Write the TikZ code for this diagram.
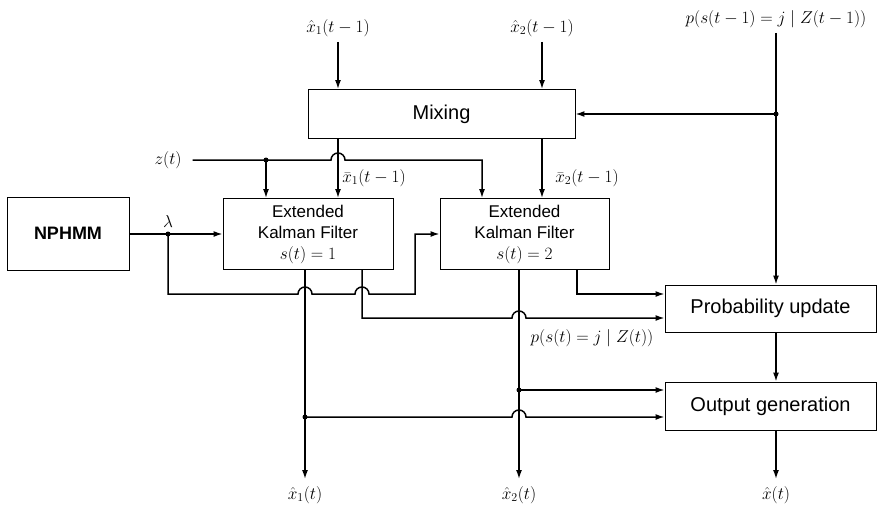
\documentclass[tikz,border=0pt]{standalone}
\usepackage{fontspec}
\setmainfont{Liberation Sans}
\usetikzlibrary{arrows.meta,calc}
\begin{document}
\begin{tikzpicture}[x=1pt,y=1pt]
\tikzset{
  box/.style={draw, line width=0.9pt, inner sep=0pt, align=center},
  bigtxt/.style={font=\fontsize{20}{24}\selectfont},
  ekftxt/.style={font=\fontsize{17}{21}\selectfont},
  conn/.style={line width=1.5pt},
  arr/.style={conn, -{Latex[length=9pt,width=6pt]}},
  jdot/.style={circle, fill, inner sep=0pt, minimum size=5pt},
  lab/.style={inner sep=1pt, font=\fontsize{16.5}{19}\selectfont},
}
\useasboundingbox (0,0) rectangle (879,-504);
% boxes
\node[box, bigtxt, minimum width=267pt, minimum height=49pt] (mix) at (441.5,-114) {Mixing};
\node[box, font=\bfseries\fontsize{18}{22}\selectfont, minimum width=122pt, minimum height=73pt] (nph) at (68,-233.5) {NPHMM};
\node[box, ekftxt, minimum width=170pt, minimum height=71pt] (ekf1) at (308,-234) {Extended\\Kalman Filter\\$s(t)=1$};
\node[box, ekftxt, minimum width=169pt, minimum height=71pt] (ekf2) at (524.5,-234) {Extended\\Kalman Filter\\$s(t)=2$};
\node[box, bigtxt, minimum width=211pt, minimum height=47pt] (pu) at (770.5,-308.5) {Probability update};
\node[box, bigtxt, minimum width=211pt, minimum height=48pt] (og) at (770.5,-406) {Output generation};
% labels
\node[lab] (lx1) at (338,-28) {$\hat{x}_1(t-1)$};
\node[lab] (lx2) at (542,-28) {$\hat{x}_2(t-1)$};
\node[lab] (lp) at (776,-19) {$p(s(t-1)=j\mid Z(t-1))$};
\node[lab] (lz) at (168,-160) {$z(t)$};
\node[lab] (lb1) at (374,-178) {$\bar{x}_1(t-1)$};
\node[lab] (lb2) at (587,-178) {$\bar{x}_2(t-1)$};
\node[lab] (llam) at (168,-221) {$\lambda$};
\node[lab] (lpz) at (592,-338) {$p(s(t)=j\mid Z(t))$};
\node[lab] (ly1) at (305,-495) {$\hat{x}_1(t)$};
\node[lab] (ly2) at (519,-495) {$\hat{x}_2(t)$};
\node[lab] (ly) at (776,-495) {$\hat{x}(t)$};
% junction points
\node[jdot] (dz) at (266,-160) {};
\node[jdot] (dl) at (168,-234) {};
\node[jdot] (dp) at (776,-114) {};
\node[jdot] (d1) at (305,-417) {};
\node[jdot] (d2) at (519,-390) {};
\coordinate (ze) at (482,-160);
\coordinate (e1b) at (362,-318);
\coordinate (e2b) at (577,-294);
\coordinate (t1) at (305,-479);
\coordinate (t2) at (519,-479);
\coordinate (t3) at (776,-479);
% top inputs
\draw[arr] ([yshift=-4pt]lx1.south) -- (lx1.south |- mix.north);
\draw[arr] ([yshift=-4pt]lx2.south) -- (lx2.south |- mix.north);
\draw[arr] ([yshift=-4pt]lp.south) -- (lp.south |- pu.north);
\draw[arr] (dp.center) -- (mix.east);
% mixing to filters
\draw[arr] (lx1 |- mix.south) -- (lx1 |- ekf1.north);
\draw[arr] (lx2 |- mix.south) -- (lx2 |- ekf2.north);
% z(t)
\draw[arr] ([xshift=10pt]lz.east) -- (331,-160) arc[start angle=180,end angle=0,radius=7] -- (ze) -- (ze |- ekf2.north);
\draw[arr] (dz.center) -- (dz |- ekf1.north);
% lambda
\draw[arr] (nph.east |- dl) -- (dl |- ekf1.west) -- (ekf1.west);
\draw[arr] (dl.center) -- (168,-294) -- (298,-294) arc[start angle=180,end angle=0,radius=7]
  -- (355,-294) arc[start angle=180,end angle=0,radius=7] -- (415,-294) -- (415,-234) -- (ekf2.west);
% EKF1 outputs
\draw[arr] (t1 |- ekf1.south) -- (t1);
\draw[arr] (d1.center) -- (512,-417) arc[start angle=180,end angle=0,radius=7] -- (d1 -| og.west);
\draw[arr] (e1b |- ekf1.south) -- (e1b) -- (512,-318) arc[start angle=180,end angle=0,radius=7] -- (e1b -| pu.west);
% EKF2 outputs
\draw[arr] (t2 |- ekf2.south) -- (t2);
\draw[arr] (d2.center) -- (d2 -| og.west);
\draw[arr] (e2b |- ekf2.south) -- (e2b) -- (e2b -| pu.west);
% right column
\draw[arr] (pu.south -| dp) -- (og.north -| dp);
\draw[arr] (og.south -| dp) -- (t3);
\end{tikzpicture}
\end{document}
